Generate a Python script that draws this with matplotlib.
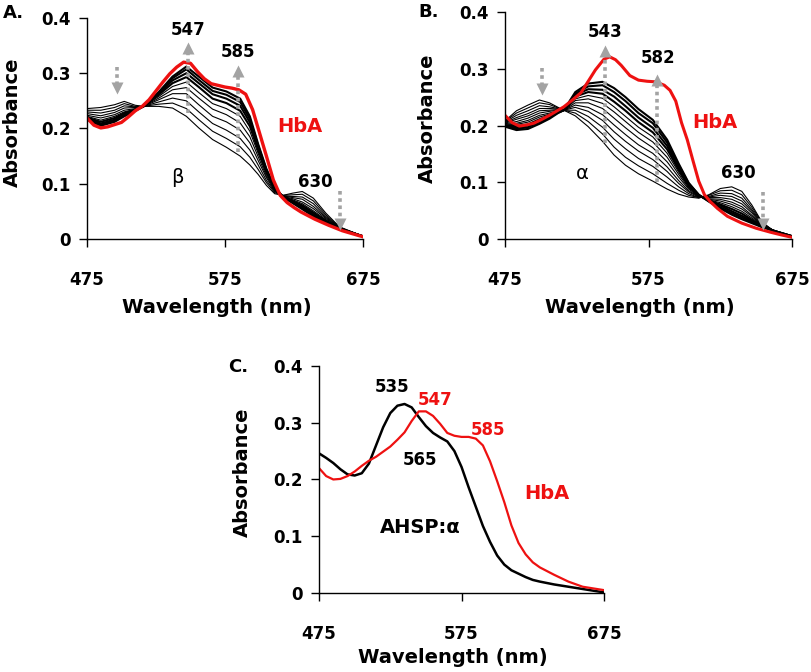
import matplotlib
matplotlib.use('Agg')
import matplotlib.pyplot as plt

# ---- data ----
XTICKS = [475, 575, 675]
YTICKS = [0, 0.1, 0.2, 0.3, 0.4]
YTICK_LABELS = ['0', '0.1', '0.2', '0.3', '0.4']

# panel A: beta titration, first spectrum -> last spectrum
wl_a = [475, 485, 495, 502, 510, 516, 527, 537, 547, 556, 566, 576, 586, 593,
        599, 605, 611, 617, 624, 631, 639, 648, 658, 675]
beta_spectra = [
    [.236, .238, .243, .249, .242, .240, .240, .237, .222, .201, .180, .166, .150, .134, .117, .097, .082, .079, .083, .086, .074, .047, .022, .005],
    [.233, .233, .238, .245, .240, .240, .244, .246, .236, .216, .195, .182, .167, .148, .126, .102, .084, .079, .080, .081, .069, .044, .021, .005],
    [.230, .228, .233, .241, .239, .240, .248, .255, .250, .230, .209, .197, .182, .161, .134, .106, .086, .078, .077, .076, .064, .041, .021, .005],
    [.227, .223, .229, .237, .238, .240, .252, .263, .263, .243, .222, .212, .197, .174, .142, .111, .087, .078, .075, .072, .059, .039, .020, .005],
    [.224, .219, .225, .233, .236, .240, .255, .270, .274, .255, .235, .225, .210, .185, .149, .114, .089, .077, .073, .067, .055, .037, .020, .005],
    [.222, .215, .222, .230, .235, .240, .258, .276, .284, .265, .245, .236, .222, .195, .155, .118, .090, .077, .071, .064, .051, .035, .019, .005],
    [.220, .212, .219, .228, .234, .240, .261, .282, .293, .275, .254, .246, .232, .204, .161, .121, .092, .077, .069, .061, .048, .033, .019, .005],
    [.219, .209, .216, .226, .233, .240, .263, .287, .300, .282, .262, .254, .241, .211, .165, .123, .092, .076, .067, .058, .045, .031, .019, .005],
    [.217, .207, .214, .224, .233, .240, .264, .291, .307, .288, .268, .261, .248, .217, .169, .125, .093, .076, .066, .056, .043, .030, .018, .005],
    [.216, .205, .212, .222, .232, .240, .266, .294, .312, .294, .274, .267, .254, .222, .172, .127, .094, .076, .065, .054, .041, .029, .018, .005],
]
wl_hba_a = [475, 480, 485, 490, 495, 500, 505, 510, 515, 520, 525, 530, 535, 540, 545, 550, 555, 560,
            565, 570, 575, 580, 585, 590, 595, 600, 605, 610, 615, 620, 625, 630, 640, 650, 660, 675]
hba_a = [.219, .206, .201, .203, .207, .211, .221, .232, .240, .252, .268, .284, .299, .311, .320, .318, .303, .290,
         .281, .278, .275, .273, .270, .262, .234, .192, .150, .107, .079, .066, .057, .049, .036, .025, .015, .004]

# panel B: alpha titration
wl_b = [475, 483, 491, 499, 506, 512, 516, 524, 533, 543, 551, 559, 568, 578, 588, 596,
        603, 610, 617, 625, 633, 640, 647, 654, 663, 675]
alpha_spectra = [
    [.208, .226, .236, .245, .240, .232, .227, .217, .198, .172, .148, .130, .115, .102, .088, .079, .074, .072, .078, .089, .092, .084, .060, .030, .013, .004],
    [.207, .222, .231, .240, .237, .231, .227, .222, .207, .185, .162, .144, .129, .115, .098, .086, .077, .073, .077, .085, .086, .078, .056, .029, .013, .004],
    [.206, .218, .226, .235, .233, .230, .227, .227, .216, .197, .176, .159, .142, .128, .109, .092, .080, .073, .075, .081, .080, .072, .052, .028, .013, .004],
    [.205, .214, .221, .230, .230, .229, .227, .232, .225, .209, .189, .172, .155, .140, .119, .098, .083, .074, .074, .077, .075, .067, .049, .027, .013, .004],
    [.204, .211, .217, .226, .227, .228, .227, .236, .232, .219, .201, .184, .166, .151, .127, .103, .085, .075, .073, .073, .070, .062, .046, .026, .013, .004],
    [.203, .207, .213, .222, .225, .227, .227, .240, .240, .230, .213, .196, .178, .161, .136, .109, .088, .075, .071, .070, .065, .057, .042, .025, .013, .004],
    [.202, .204, .209, .218, .222, .226, .227, .244, .247, .239, .224, .207, .188, .171, .144, .114, .090, .076, .070, .067, .061, .053, .040, .024, .014, .005],
    [.201, .202, .206, .215, .220, .225, .227, .247, .253, .248, .233, .216, .197, .180, .151, .118, .092, .076, .069, .064, .057, .049, .037, .024, .014, .005],
    [.200, .199, .202, .211, .218, .224, .227, .251, .259, .256, .242, .226, .206, .188, .158, .122, .094, .077, .068, .061, .053, .045, .034, .023, .014, .005],
    [.199, .196, .200, .208, .216, .223, .227, .254, .264, .263, .251, .234, .214, .196, .164, .126, .096, .077, .068, .059, .049, .041, .032, .022, .014, .005],
    [.199, .194, .197, .206, .214, .223, .227, .256, .269, .271, .259, .243, .222, .204, .170, .130, .098, .078, .067, .056, .046, .038, .030, .022, .014, .005],
    [.198, .192, .194, .203, .212, .222, .227, .259, .274, .277, .266, .250, .229, .210, .175, .133, .099, .078, .066, .054, .043, .035, .028, .021, .014, .005],
]
wl_hba_b = [475, 480, 485, 490, 495, 500, 506, 512, 516, 522, 528, 534, 538, 544, 548, 552, 556, 562, 568,
            574, 580, 586, 590, 594, 598, 602, 606, 610, 614, 618, 623, 630, 640, 650, 660, 668, 675]
hba_b = [.218, .205, .199, .201, .204, .210, .218, .227, .233, .245, .258, .282, .298, .317, .321, .316, .306, .288, .280,
         .278, .277, .271, .262, .243, .205, .175, .138, .102, .078, .066, .054, .040, .028, .019, .012, .007, .003]

# panel C: AHSP:alpha vs HbA
wl_c = [475, 480, 485, 490, 495, 500, 505, 510, 515, 520, 525, 530, 535, 540, 545, 550, 555, 560,
        565, 570, 575, 580, 585, 590, 595, 600, 605, 610, 615, 620, 625, 630, 640, 650, 660, 675]
hba_c = [.220, .206, .200, .201, .206, .214, .224, .233, .240, .249, .258, .270, .283, .303, .320, .320, .312, .298,
         .282, .277, .275, .275, .272, .260, .232, .197, .160, .119, .088, .068, .054, .045, .032, .020, .011, .005]
ahsp_alpha = [.246, .238, .229, .218, .209, .207, .211, .228, .260, .292, .317, .330, .333, .327, .310, .294, .282, .274,
              .267, .250, .222, .186, .152, .118, .090, .066, .050, .040, .034, .028, .023, .020, .015, .011, .007, .001]

# grey arrows: (wavelength, start, tip)
arrows_a = [(497, .312, .262), (548, .228, .357), (584.6, .158, .315), (658, .086, .016)]
arrows_b = [(500.6, .301, .254), (545, .169, .342), (580.7, .101, .292), (654.6, .082, .016)]

RED = '#ee1111'
GREY = '#a3a3a3'
FONT = 'DejaVu Sans'


def style(ax, xlab_y=-0.31):
    ax.set_xlim(475, 675)
    ax.set_ylim(0, 0.4)
    ax.set_xticks(XTICKS)
    ax.set_yticks(YTICKS)
    ax.set_yticklabels(YTICK_LABELS)
    for s in ['top', 'right']:
        ax.spines[s].set_visible(False)
    for s in ['left', 'bottom']:
        ax.spines[s].set_linewidth(1.0)
    ax.tick_params(direction='out', length=6, width=1, labelsize=12)
    ax.tick_params(axis='x', pad=17)
    ax.tick_params(axis='y', pad=6)
    for lab in ax.get_xticklabels() + ax.get_yticklabels():
        lab.set_fontweight('bold')
    ax.set_xlabel('Wavelength (nm)', fontsize=14, fontweight='bold')
    ax.set_ylabel('Absorbance', fontsize=14, fontweight='bold')
    ax.xaxis.set_label_coords(0.47, xlab_y)
    ax.xaxis.label.set_va('center')
    ax.yaxis.set_label_coords(-0.27, 0.53)
    ax.yaxis.label.set_va('center')


def grey_arrow(ax, x, y0, y1):
    up = y1 > y0
    sign = 1 if up else -1
    ax.plot([x, x], [y0, y1 - sign * 0.012], color=GREY, lw=2.6,
            ls=(0, (1, 1)), solid_capstyle='butt')
    ax.plot(x, y1 - sign * 0.011, marker='^' if up else 'v', ms=9,
            color=GREY, mec='none')


plt.rcParams['font.family'] = FONT
fig = plt.figure(figsize=(8.12, 6.72), dpi=100)

# ---- A ----
ax_a = fig.add_axes([0.1071, 0.6443, 0.340, 0.329])
for i, spec in enumerate(beta_spectra):
    ax_a.plot(wl_a, spec, color='black', lw=0.8 if i < 6 else 1.5)
ax_a.plot(wl_hba_a, hba_a, color=RED, lw=2.4)
for x, y0, y1 in arrows_a:
    grey_arrow(ax_a, x, y0, y1)
style(ax_a)
ax_a.text(548.2, 0.378, '547', ha='center', va='center', fontsize=12, fontweight='bold')
ax_a.text(584.4, 0.338, '585', ha='center', va='center', fontsize=12, fontweight='bold')
ax_a.text(640.2, 0.103, '630', ha='center', va='center', fontsize=12, fontweight='bold')
ax_a.text(629.3, 0.203, 'HbA', ha='center', va='center', fontsize=14, fontweight='bold', color=RED)
ax_a.text(540.2, 0.112, 'β', ha='center', va='center', fontsize=14)
fig.text(3 / 812, 1 - 13 / 672, 'A.', ha='left', va='center', fontsize=13, fontweight='bold')

# ---- B ----
ax_b = fig.add_axes([0.6219, 0.6443, 0.3535, 0.3378])
for i, spec in enumerate(alpha_spectra):
    ax_b.plot(wl_b, spec, color='black', lw=0.8 if i < 8 else 1.5)
ax_b.plot(wl_hba_b, hba_b, color=RED, lw=2.2)
for x, y0, y1 in arrows_b:
    grey_arrow(ax_b, x, y0, y1)
style(ax_b, -0.30)
ax_b.text(544.7, 0.365, '543', ha='center', va='center', fontsize=12, fontweight='bold')
ax_b.text(581.6, 0.319, '582', ha='center', va='center', fontsize=12, fontweight='bold')
ax_b.text(637.4, 0.116, '630', ha='center', va='center', fontsize=12, fontweight='bold')
ax_b.text(621.3, 0.206, 'HbA', ha='center', va='center', fontsize=14, fontweight='bold', color=RED)
ax_b.text(528.7, 0.116, 'α', ha='center', va='center', fontsize=14)
fig.text(418 / 812, 1 - 12 / 672, 'B.', ha='left', va='center', fontsize=13, fontweight='bold')

# ---- C ----
ax_c = fig.add_axes([0.3929, 0.1176, 0.351, 0.3378])
ax_c.plot(wl_c, ahsp_alpha, color='black', lw=1.8)
ax_c.plot(wl_c, hba_c, color=RED, lw=1.6)
style(ax_c, -0.285)
ax_c.text(526.2, 0.363, '535', ha='center', va='center', fontsize=12, fontweight='bold')
ax_c.text(556.4, 0.340, '547', ha='center', va='center', fontsize=12, fontweight='bold', color=RED)
ax_c.text(593.6, 0.287, '585', ha='center', va='center', fontsize=12, fontweight='bold', color=RED)
ax_c.text(545.9, 0.234, '565', ha='center', va='center', fontsize=12, fontweight='bold')
ax_c.text(635.0, 0.176, 'HbA', ha='center', va='center', fontsize=14, fontweight='bold', color=RED)
ax_c.text(545.9, 0.115, 'AHSP:α', ha='center', va='center', fontsize=14, fontweight='bold')
fig.text(228 / 812, 1 - 367 / 672, 'C.', ha='left', va='center', fontsize=13, fontweight='bold')

fig.savefig('out.png', dpi=100)
